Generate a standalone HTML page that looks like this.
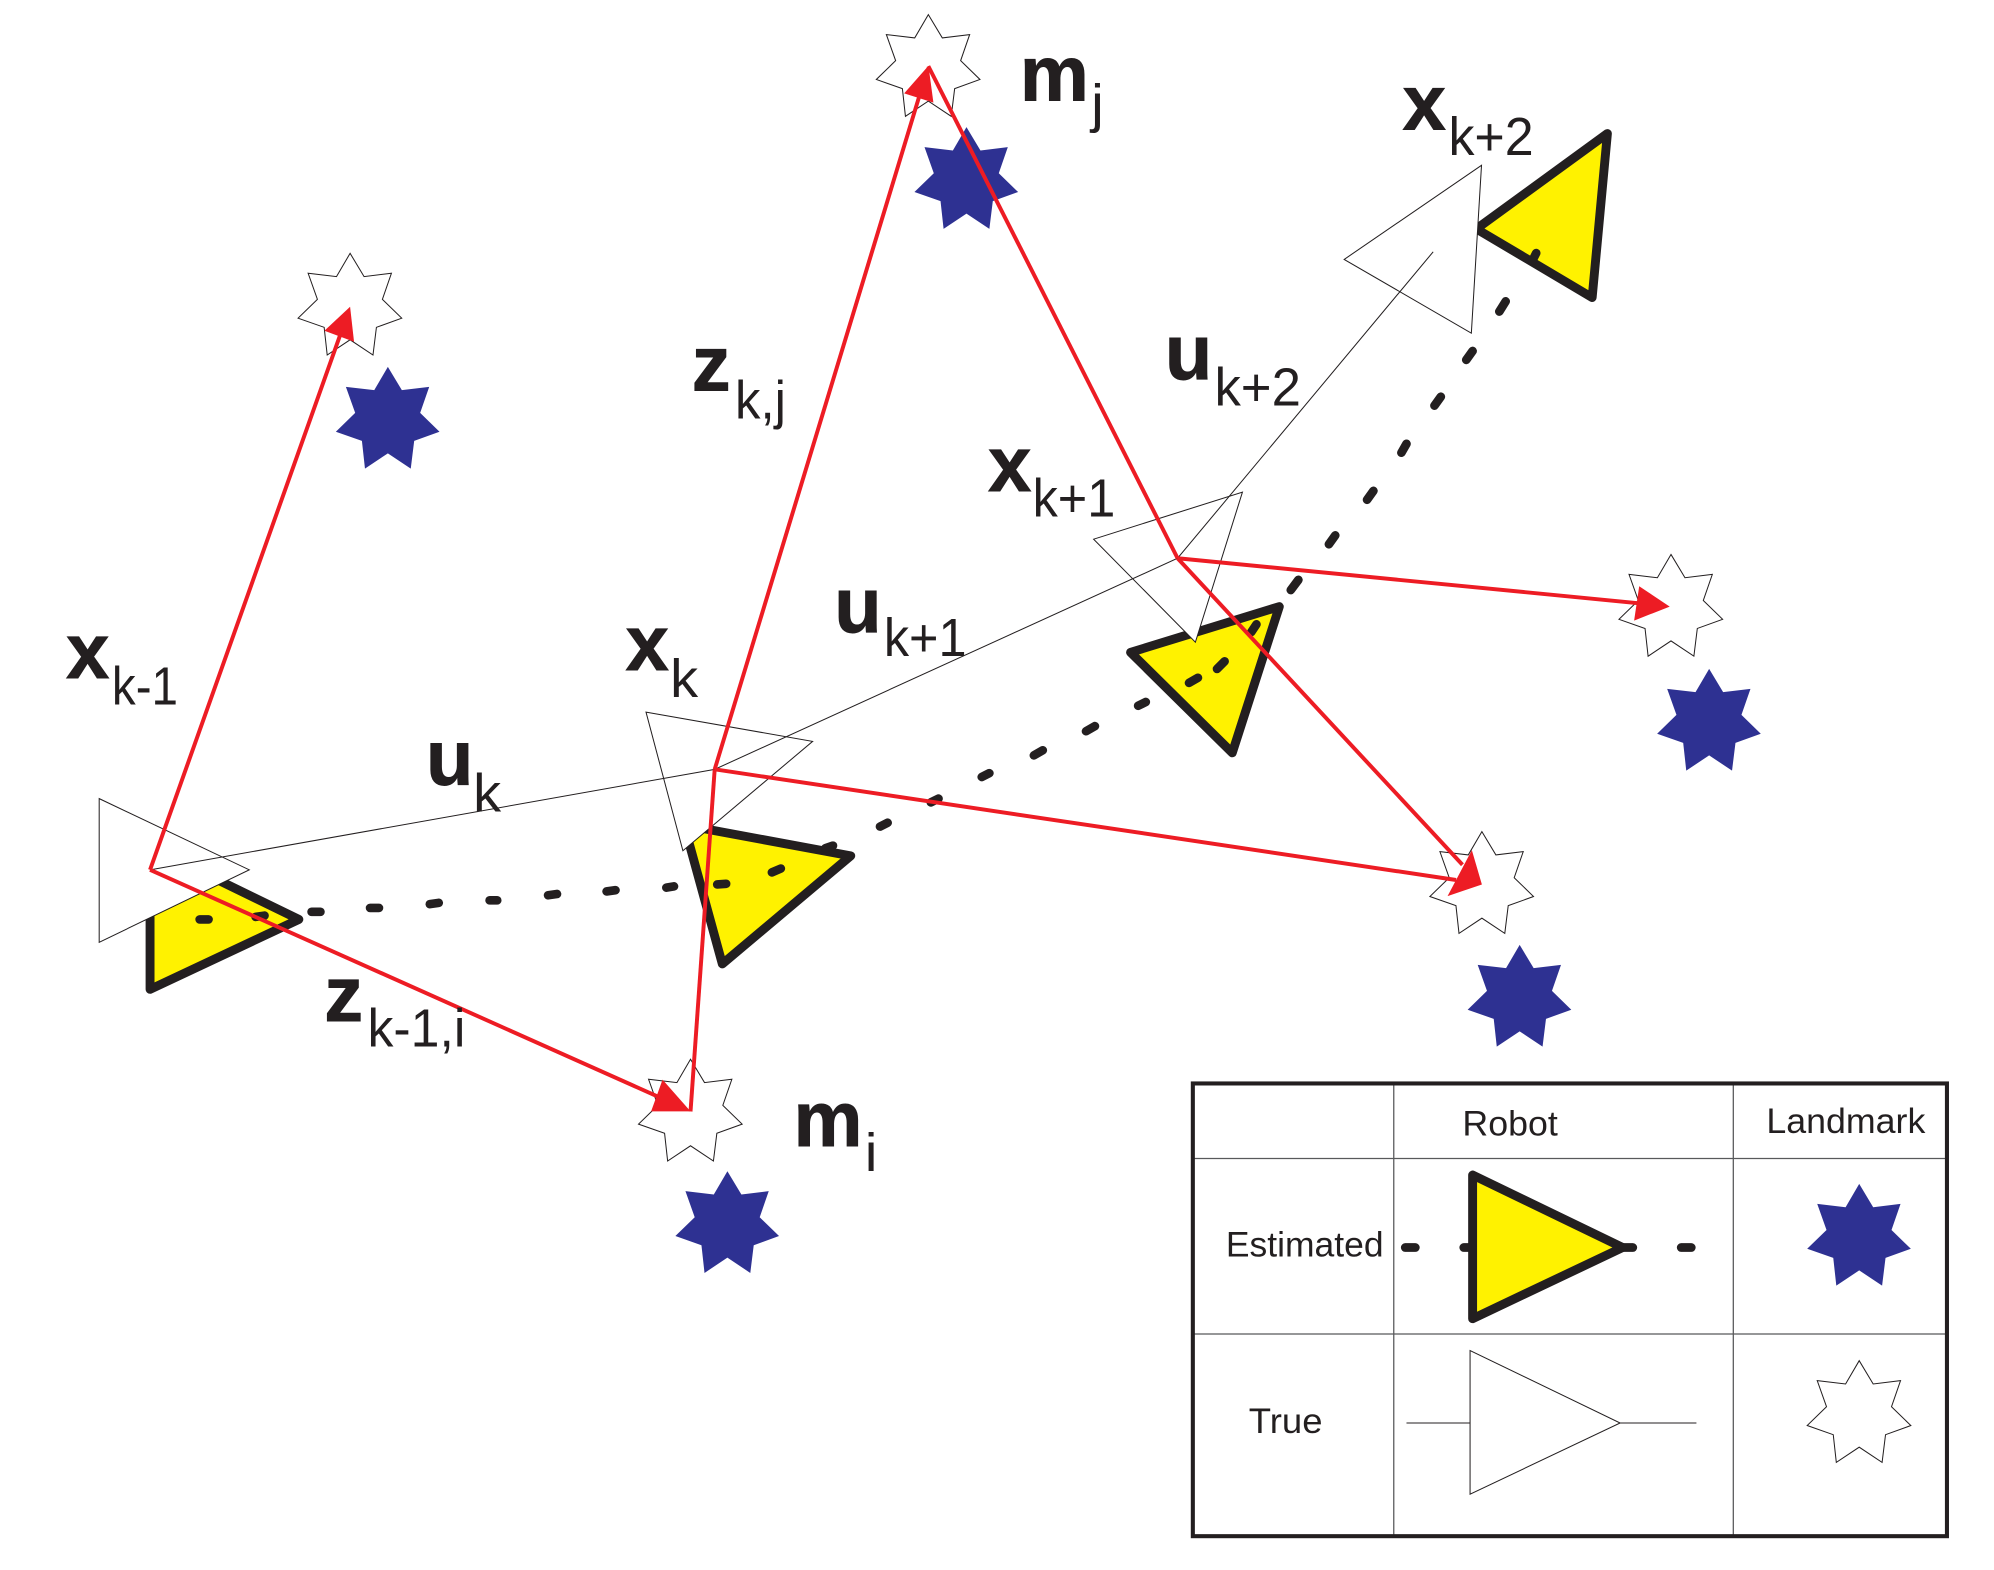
<!DOCTYPE html>
<html>
<head>
<meta charset="utf-8">
<title>SLAM diagram</title>
<style>
html,body{margin:0;padding:0;background:#fff;}
svg{display:block;width:1994px;height:1570px;}
text{font-family:"Liberation Sans",sans-serif;fill:#231f20;}
.b{font-weight:bold;font-size:61px;stroke:#231f20;stroke-width:0.7px;}
.s{font-size:42px;}
.l{font-size:28px;}
</style>
</head>
<body>
<svg xmlns="http://www.w3.org/2000/svg" viewBox="0 0 1568 1234.6" preserveAspectRatio="none">
<defs>
<polygon id="st" points="0,0 11,18.3 32.5,15.7 25.4,36.2 40.6,51 20.7,58.2 18,80 0,68 -18,80 -20.4,58.2 -40.9,51 -25.7,36.2 -33,15.7 -10.7,18.3"/>
</defs>
<rect width="1568" height="1234.6" fill="#fff"/>

<!-- estimated robots -->
<g fill="#fff200" stroke="#231f20" stroke-width="7" stroke-linejoin="round">
<polygon points="118,666 118,778 235,723"/>
<polygon points="538,648.8 669,673 568,758"/>
<polygon points="889,513 1006,477 969,592"/>
<polygon points="1264,105 1252,234 1161,180"/>
</g>

<!-- estimated path -->
<path fill="none" stroke="#231f20" stroke-width="6.8" stroke-linecap="round" d="
M157,723 L164,723 M201,721 L208,720 M245,717 L252,717 M291,714 L298,714 M338,711 L345,710 M385,708 L391,708 M431,704 L438,703 M477,701 L484,700 M524,698 L530,697
M564,695.5 L571,695 M607,686 L614,683 M649,667 L655,665 M692,650 L698,647 M732,631 L738,628 M772,611 L778,608 M813,594 L820,590 M854,575 L861,571 M895,555 L901,552 M935,537 L942,533
M957,526 L963,520 M984,497 L988,491 M1015,464 L1021,456 M1045,428 L1050,421 M1075,393 L1080,386 M1102,356 L1106,349 M1128,319 L1133,312 M1153,283 L1158,276 M1179,245 L1184,237 M1205,205 L1208,199"/>

<!-- landmarks -->
<g fill="#2e3192">
<use href="#st" x="305" y="288.5"/>
<use href="#st" x="760" y="100"/>
<use href="#st" x="572" y="921"/>
<use href="#st" x="1344" y="526"/>
<use href="#st" x="1195" y="743"/>
</g>
<g fill="#fff" stroke="#231f20" stroke-width="0.8">
<use href="#st" x="275.3" y="199.2"/>
<use href="#st" x="730" y="11.5"/>
<use href="#st" x="543" y="833"/>
<use href="#st" x="1314" y="436"/>
<use href="#st" x="1165.3" y="654"/>
</g>

<!-- true robots -->
<g fill="#fff" stroke="#231f20" stroke-width="0.8">
<polygon points="78,628 78,741 196,684"/>
<polygon points="508,560 639,583 537,669"/>
<polygon points="860,424 977,387 940,505"/>
<polygon points="1165,130 1057,204 1157,262"/>
</g>
<path fill="none" stroke="#231f20" stroke-width="0.8" d="M118,684 L562,605 L926,439 L1127,198"/>

<!-- observations -->
<g fill="none" stroke="#ed1c24" stroke-width="3.1">
<path d="M118,684 L268,262"/>
<path d="M118,684 L530,868"/>
<path d="M562,605 L543,874"/>
<path d="M562,605 L724,72"/>
<path d="M562,605 L1145,692"/>
<path d="M926,439 L730,52"/>
<path d="M926,439 L1295,475"/>
<path d="M926,439 L1150,680"/>
</g>
<g fill="#ed1c24">
<polygon points="275.3,241.2 255.1,260.1 278.4,268.7"/>
<polygon points="543,874 521,849 512,874"/>
<polygon points="730.1,51.7 711,73.4 734,80.7"/>
<polygon points="1313,477 1289,461 1285,488"/>
<polygon points="1157.4,668.5 1165.3,695.5 1138.3,704.7"/>
</g>

<!-- labels -->
<text class="b" x="52" y="533">x</text><text class="s" x="88" y="554" textLength="52" lengthAdjust="spacingAndGlyphs">k-1</text>
<text class="b" x="492" y="527">x</text><text class="s" x="527" y="548" textLength="22" lengthAdjust="spacingAndGlyphs">k</text>
<text class="b" x="777" y="386">x</text><text class="s" x="812" y="406" textLength="65" lengthAdjust="spacingAndGlyphs">k+1</text>
<text class="b" x="1103" y="102">x</text><text class="s" x="1139" y="122" textLength="67" lengthAdjust="spacingAndGlyphs">k+2</text>
<text class="b" x="335" y="617">u</text><text class="s" x="372" y="638" textLength="22" lengthAdjust="spacingAndGlyphs">k</text>
<text class="b" x="656" y="497">u</text><text class="s" x="695" y="516" textLength="65" lengthAdjust="spacingAndGlyphs">k+1</text>
<text class="b" x="916" y="298">u</text><text class="s" x="955" y="319" textLength="68" lengthAdjust="spacingAndGlyphs">k+2</text>
<text class="b" x="544" y="307">z</text><text class="s" x="578" y="329" textLength="40" lengthAdjust="spacingAndGlyphs">k,j</text>
<text class="b" x="255" y="803">z</text><text class="s" x="289" y="823" textLength="77" lengthAdjust="spacingAndGlyphs">k-1,i</text>
<text class="b" x="802" y="79">m</text><text class="s" x="858" y="96" textLength="10" lengthAdjust="spacingAndGlyphs">j</text>
<text class="b" x="624" y="901">m</text><text class="s" x="680" y="921" textLength="10" lengthAdjust="spacingAndGlyphs">i</text>

<!-- legend -->
<g stroke="#58595b" stroke-width="1" fill="none">
<path d="M1096,852 V1208 M1363,852 V1208 M938,911 H1531 M938,1049 H1531"/>
</g>
<rect x="938" y="852" width="593" height="356" fill="none" stroke="#231f20" stroke-width="3.2"/>
<text class="l" x="1150" y="893" textLength="75" lengthAdjust="spacingAndGlyphs">Robot</text>
<text class="l" x="1389" y="891" textLength="125" lengthAdjust="spacingAndGlyphs">Landmark</text>
<text class="l" x="964" y="988" textLength="124" lengthAdjust="spacingAndGlyphs">Estimated</text>
<text class="l" x="982" y="1127" textLength="58" lengthAdjust="spacingAndGlyphs">True</text>
<path fill="none" stroke="#231f20" stroke-width="6.8" stroke-linecap="round" d="M1105,981 H1113 M1151,981 H1158 M1276,981 H1284 M1322,981 H1330"/>
<polygon points="1158,924 1158,1037 1276,981" fill="#fff200" stroke="#231f20" stroke-width="7" stroke-linejoin="round"/>
<use href="#st" x="1462" y="931" fill="#2e3192"/>
<path d="M1106,1119 H1334" stroke="#231f20" stroke-width="0.8" fill="none"/>
<polygon points="1156,1062 1156,1175 1274,1119" fill="#fff" stroke="#231f20" stroke-width="0.8"/>
<use href="#st" x="1462" y="1070" fill="#fff" stroke="#231f20" stroke-width="0.8"/>
</svg>
</body>
</html>
